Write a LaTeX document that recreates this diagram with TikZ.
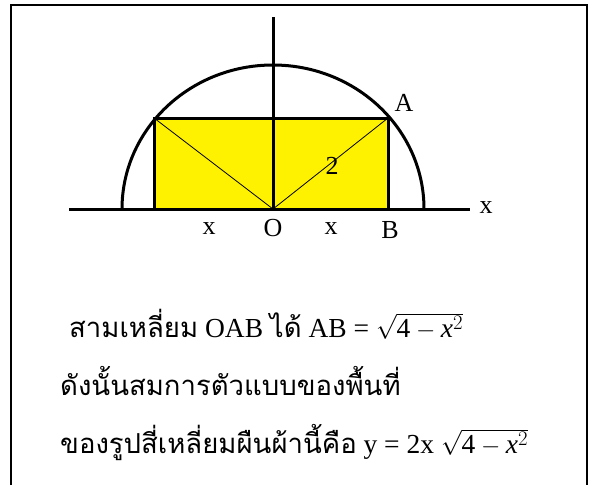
\documentclass[tikz,border=0pt]{standalone}
\usepackage{amsmath}
\usepackage{fontspec}
\setmainfont{Liberation Serif}
\newfontfamily\thaifont[Script=Thai]{Loma}
\newcommand{\thx}[1]{{\thaifont\fontsize{27.5}{30}\selectfont #1}}
\begin{document}
\begin{tikzpicture}[x=1pt,y=-1pt,
  heavy/.style={line width=3pt},
  lbl/.style={font=\fontsize{26}{30}\selectfont, inner sep=0pt},
  txt/.style={font=\fontsize{27.5}{30}\selectfont, inner sep=0pt, anchor=base west}]
\useasboundingbox (0,0) rectangle (594,485);
% frame
\coordinate (F1) at (11,485);
\coordinate (F2) at (11,5);
\coordinate (F3) at (587,5);
\coordinate (F4) at (587,485);
\draw[line width=2pt] (F1) -- (F2) -- (F3) -- (F4);
% points
\coordinate (O) at (273,209);
\coordinate (A) at (388,118);
\coordinate (B) at (388,209);
\coordinate (C) at (154,118);
\coordinate (D) at (154,209);
\coordinate (XL) at (69,209);
\coordinate (XR) at (470,209);
\coordinate (YT) at (273,17);
\coordinate (EL) at (122,209);
% rectangle fill
\fill[yellow] (C) rectangle (B);
\draw[line width=0.8pt] (C) -- (O) -- (A);
\draw[heavy] (D) -- (C) -- (A) -- (B);
% axes
\draw[heavy] (XL) -- (XR);
\draw[heavy] (YT) -- (O);
% semicircle
\draw[heavy] (EL) arc[start angle=180, end angle=0, x radius=151pt, y radius=144pt];
% labels
\node[lbl] (lA) at (404,103) {A};
\node[lbl] (l2) at (332,166) {2};
\node[lbl] (lX) at (486,208) {x};
\node[lbl] (lx1) at (209,229) {x};
\node[lbl] (lO) at (273,228) {O};
\node[lbl] (lx2) at (331,229) {x};
\node[lbl] (lB) at (390,230) {B};
% text
\node[txt] (t1) at (69,337) {\thx{สามเหลี่ยม} OAB \thx{ได้} AB = $\sqrt{\text{4}-\textit{x}^{2}}$};
\node[txt] (t2) at (60,395) {\thx{ดังนั้นสมการตัวแบบของพื้นที่}};
\node[txt] (t3) at (60,453) {\thx{ของรูปสี่เหลี่ยมผืนผ้านี้คือ} y = 2x $\sqrt{\text{4}-\textit{x}^{2}}$};
\end{tikzpicture}
\end{document}
